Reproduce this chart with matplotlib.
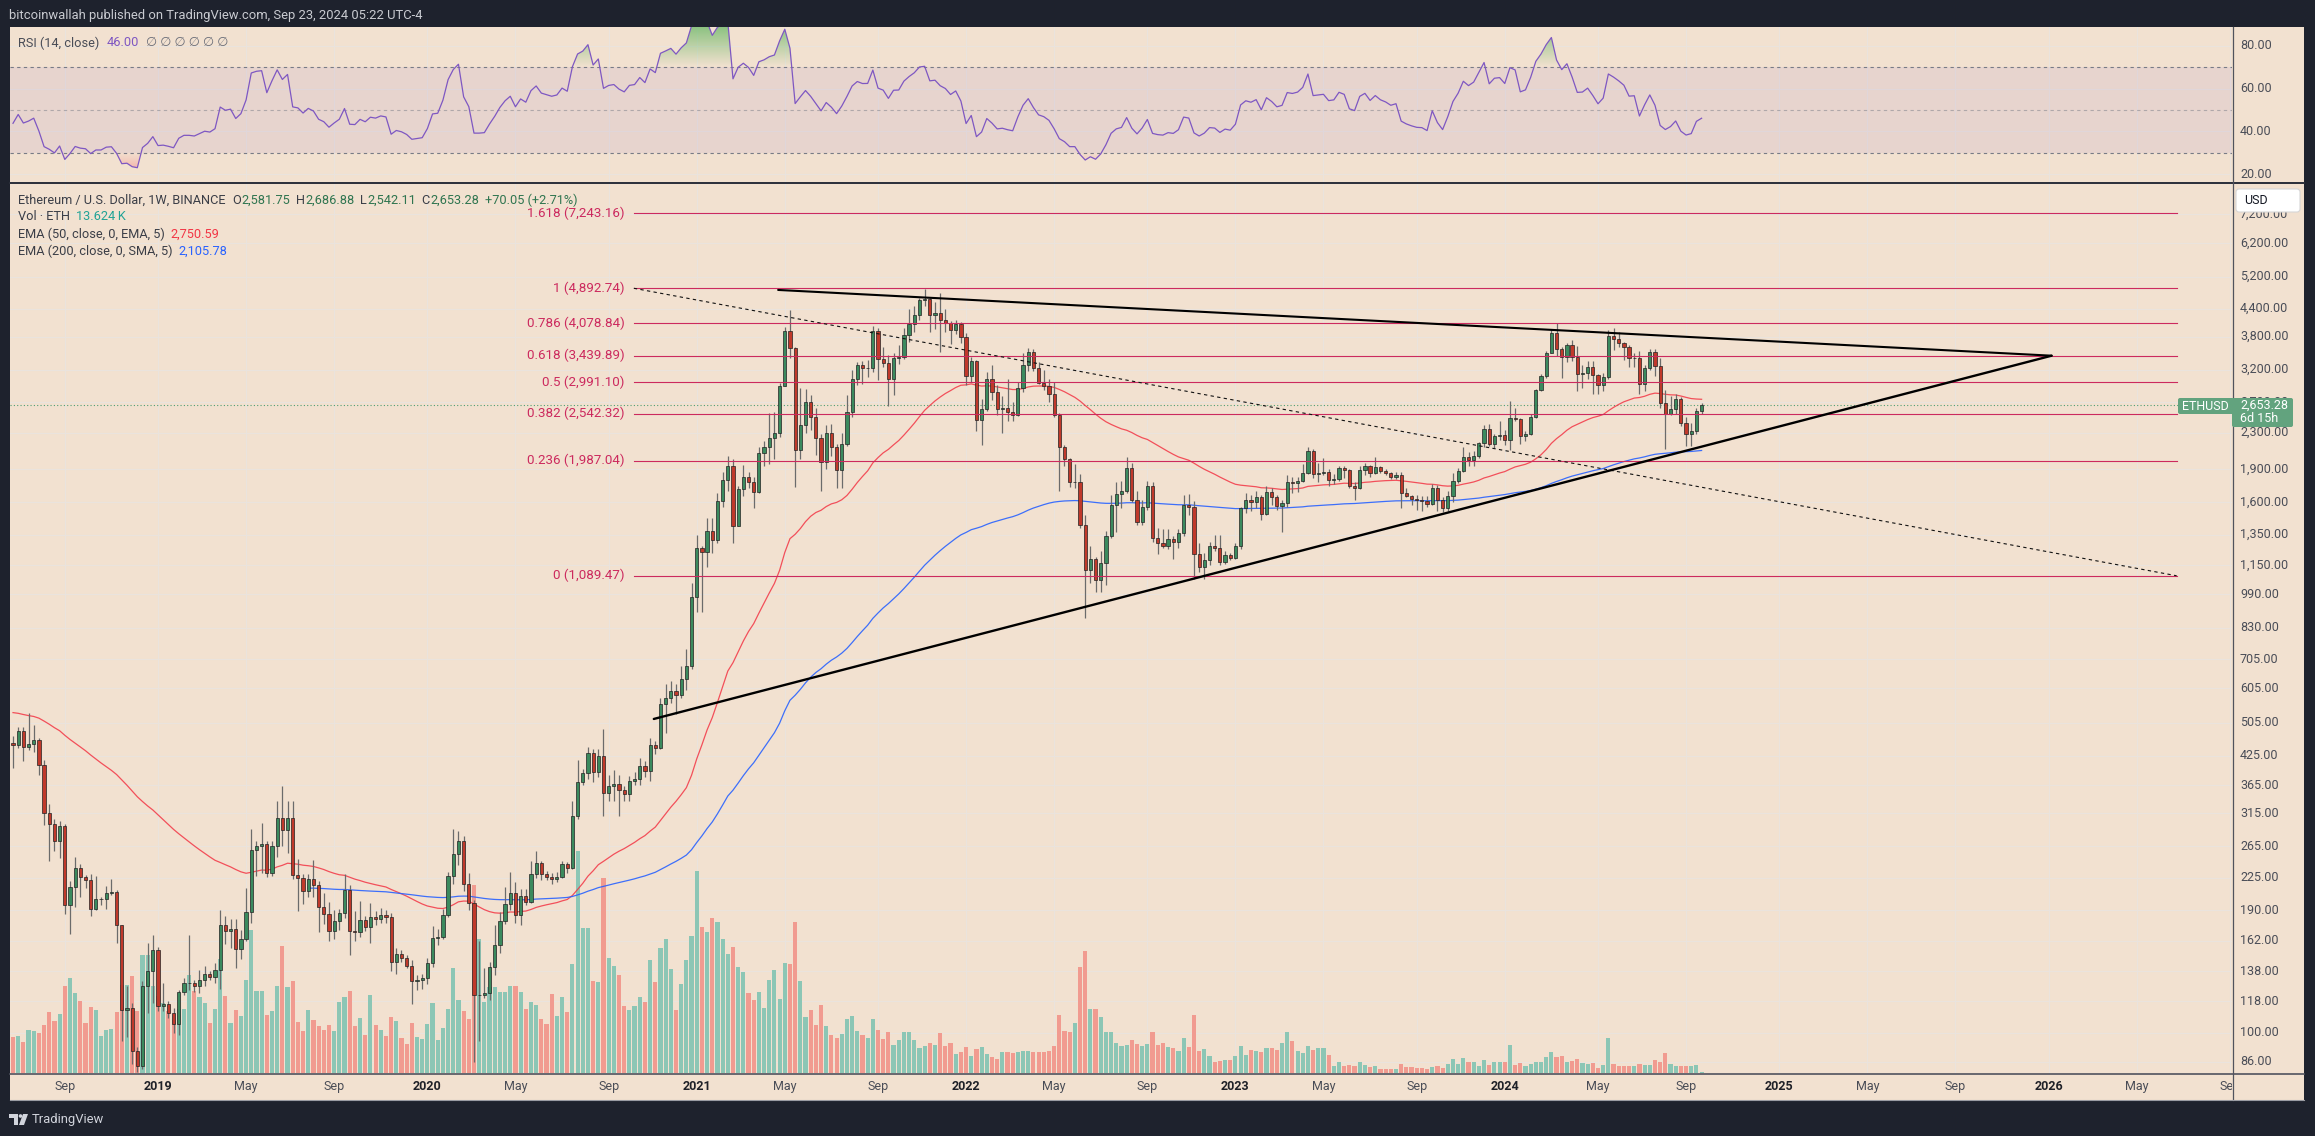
import numpy as np
import pandas as pd
import matplotlib
matplotlib.use("Agg")
import matplotlib.pyplot as plt
import matplotlib.transforms as mtransforms
from matplotlib.patches import Rectangle, FancyBboxPatch, Polygon, Circle
from matplotlib.lines import Line2D
from matplotlib.path import Path
from matplotlib.colors import LinearSegmentedColormap

plt.rcParams['font.family'] = ['Roboto', 'DejaVu Sans']

# ---------------------------------------------------------------- data
first_week = "2018-06-25"          # Monday of first weekly bar
first_open = 455.0
last_open = 2581.75

close_2018 = [451, 484, 446, 453, 463, 406, 316, 298, 273, 294, 195, 214, 237, 226, 222, 191, 201, 201, 208, 209,
              176, 113, 114, 91, 84, 128, 138, 154]
high_2018 = [472, 494, 494, 531, 499, 467, 417, 330, 305, 302, 298, 221, 251, 242, 228, 229, 227, 203, 215, 223,
             211, 176, 128, 117, 93, 131, 160, 167]
low_2018 = [400, 443, 413, 438, 434, 384, 297, 246, 259, 250, 186, 168, 193, 203, 213, 184, 190, 195, 191, 206,
            160, 96, 98, 85, 81.5, 83, 111, 117]
vol_2018 = [36, 37, 31, 43, 42, 40, 48, 61, 52, 59, 87, 95, 80, 72, 50, 66, 63, 37, 43, 44,
            61, 88, 88, 97, 62, 118, 118, 87]

close_2019 = [115, 116, 111, 105, 124, 130, 130, 128, 132, 136, 134, 139, 176, 170, 172, 155, 163, 188, 260, 266,
              268, 230, 266, 307, 288, 307, 228, 225, 210, 223, 216, 193, 186, 170, 179, 187, 211, 170, 169, 180,
              174, 183, 181, 185, 183, 145, 151, 148, 142, 131, 132, 133]
high_2019 = [157, 130, 118, 114, 125, 133, 167, 132, 139, 142, 138, 144, 190, 184, 181, 181, 171, 213, 290, 273,
             299, 273, 273, 335, 364, 335, 335, 248, 229, 229, 247, 221, 208, 198, 190, 191, 229, 216, 189, 199,
             184, 197, 189, 192, 190, 187, 156, 154, 150, 146, 135, 136]
low_2019 = [112, 112, 108, 100, 99, 122, 125, 124, 123, 128, 132, 130, 126, 159, 156, 140, 147, 162, 178, 227,
            230, 226, 227, 251, 265, 256, 223, 189, 196, 203, 203, 169, 177, 162, 163, 171, 182, 150, 162, 165,
            170, 160, 176, 178, 178, 138, 136, 145, 140, 116, 125, 126]
vol_2019 = [77, 70, 62, 53, 64, 64, 98, 82, 76, 70, 50, 64, 114, 77, 50, 63, 57, 93, 143, 82,
            82, 58, 62, 87, 127, 86, 92, 51, 42, 63, 53, 47, 43, 48, 42, 71, 76, 82, 47, 55,
            38, 78, 48, 43, 37, 56, 52, 35, 29, 50, 36, 34]

close_2020 = [144, 164, 165, 185, 227, 255, 272, 218, 197, 122, 122, 123, 141, 158, 179, 196, 208, 185, 205, 198,
              229, 243, 229, 226, 223, 226, 242, 237, 310, 371, 388, 431, 391, 425, 351, 364, 368, 356, 349, 373,
              376, 403, 392, 450, 442, 557, 576, 597, 584, 634, 680, 975]
high_2020 = [148, 175, 172, 191, 232, 290, 287, 280, 230, 200, 162, 140, 145, 176, 188, 214, 232, 220, 212, 212,
             245, 258, 246, 233, 230, 232, 245, 244, 335, 417, 398, 445, 440, 440, 488, 385, 395, 385, 363, 382,
             390, 420, 415, 468, 460, 575, 620, 630, 620, 680, 742, 1050]
low_2020 = [129, 141, 158, 163, 183, 218, 241, 210, 190, 86, 96, 120, 119, 135, 152, 177, 190, 178, 176, 195,
            197, 225, 222, 222, 218, 220, 225, 230, 235, 305, 365, 376, 370, 380, 310, 335, 335, 310, 335, 335,
            365, 365, 380, 372, 430, 440, 480, 560, 530, 575, 600, 670]
vol_2020 = [49, 70, 33, 45, 64, 105, 73, 62, 54, 188, 134, 71, 86, 86, 81, 81, 87, 87, 81, 64,
            71, 68, 54, 49, 79, 57, 76, 61, 109, 222, 145, 145, 92, 91, 195, 115, 107, 98, 67, 63,
            67, 76, 71, 113, 91, 125, 134, 104, 63, 89, 113, 137]

close_2021 = [1260, 1231, 1380, 1313, 1613, 1795, 1930, 1416, 1710, 1830, 1780, 1685, 2070, 2135, 2240, 2300, 2940,
              3910, 3580, 2100, 2400, 2700, 2500, 2240, 1970, 2300, 2130, 1890, 2170, 2560, 3050, 3280, 3220, 3225,
              3920, 3375, 3310, 3040, 3400, 3410, 3825, 4060, 4260, 4590, 4630, 4260, 4290, 4150, 4080, 3930, 4050,
              3800]
high_2021 = [1350, 1270, 1470, 1475, 1680, 1870, 2040, 2000, 1740, 1940, 1870, 1830, 2140, 2200, 2545, 2560, 2990,
             3990, 4370, 3600, 2900, 2890, 2800, 2620, 2280, 2400, 2410, 2170, 2300, 2800, 3200, 3330, 3340, 3370,
             4020, 3970, 3600, 3450, 3480, 3640, 3970, 4380, 4460, 4660, 4870, 4650, 4550, 4780, 4400, 4130, 4150,
             4100]
low_2021 = [900, 900, 1140, 1230, 1290, 1560, 1700, 1290, 1410, 1650, 1720, 1550, 1680, 1930, 1950, 2000, 2250,
            2930, 3400, 1730, 2000, 2300, 2330, 2050, 1700, 1900, 2040, 1720, 1720, 2150, 2500, 2950, 2960, 3080,
            3160, 3030, 3250, 2650, 2800, 3300, 3380, 3700, 3900, 4140, 4450, 3900, 3950, 3500, 3900, 3650, 3850,
            3680]
vol_2021 = [202, 146, 141, 155, 151, 134, 119, 126, 106, 101, 80, 73, 81, 65, 93, 103, 74, 110, 109, 151,
            92, 56, 63, 48, 68, 47, 38, 35, 39, 54, 57, 42, 38, 35, 54, 43, 34, 41, 28, 33,
            41, 41, 33, 25, 27, 30, 28, 40, 27, 30, 19, 21]

close_2022 = [3100, 3340, 2460, 2600, 3040, 2850, 2600, 2620, 2560, 2520, 2900, 3270, 3500, 3230, 2990, 2930, 2810,
              2520, 2130, 2000, 1780, 1780, 1420, 1125, 1190, 1065, 1165, 1340, 1575, 1670, 1700, 1910, 1615, 1440,
              1560, 1740, 1330, 1290, 1275, 1320, 1300, 1360, 1580, 1560, 1220, 1140, 1185, 1270, 1260, 1170, 1215,
              1195]
high_2022 = [3870, 3420, 3360, 2750, 3160, 3280, 2950, 2790, 3040, 2700, 3000, 3480, 3580, 3560, 3330, 3200, 3050,
             3000, 2550, 2160, 2020, 1950, 1850, 1500, 1270, 1200, 1240, 1380, 1660, 1780, 1790, 2030, 1960, 1700,
             1620, 1790, 1780, 1400, 1390, 1390, 1340, 1390, 1660, 1670, 1610, 1290, 1230, 1300, 1350, 1350, 1240,
             1230]
low_2022 = [2950, 3000, 2320, 2160, 2580, 2730, 2520, 2300, 2440, 2450, 2510, 2850, 3180, 3180, 2960, 2880, 2700,
            2500, 1700, 1930, 1730, 1720, 1400, 875, 1050, 1000, 1000, 1040, 1330, 1370, 1550, 1680, 1600, 1420,
            1420, 1540, 1300, 1220, 1260, 1250, 1190, 1260, 1340, 1500, 1070, 1110, 1070, 1150, 1240, 1150, 1160,
            1180]
vol_2022 = [26, 17, 24, 26, 19, 16, 14, 21, 21, 20, 21, 22, 22, 21, 21, 21, 22, 27, 58, 42,
            41, 50, 106, 122, 64, 64, 56, 41, 41, 30, 27, 28, 33, 29, 27, 29, 41, 28, 30, 26,
            25, 22, 35, 26, 58, 22, 24, 17, 11, 12, 13, 13]

close_2023 = [1270, 1550, 1620, 1600, 1640, 1505, 1690, 1640, 1570, 1590, 1780, 1770, 1790, 1860, 2090, 1850, 1860,
              1870, 1800, 1810, 1910, 1890, 1740, 1720, 1890, 1930, 1860, 1920, 1880, 1860, 1830, 1845, 1680, 1650,
              1630, 1615, 1612, 1585, 1725, 1620, 1550, 1650, 1790, 1880, 2030, 1995, 2040, 2180, 2350, 2170, 2260,
              2270]
high_2023 = [1290, 1560, 1680, 1660, 1700, 1660, 1740, 1720, 1660, 1620, 1840, 1830, 1830, 1950, 2140, 2110, 1960,
             2020, 1900, 1850, 1930, 1930, 1900, 1780, 1930, 1960, 1940, 2030, 1930, 1900, 1870, 1870, 1870, 1720,
             1660, 1660, 1650, 1650, 1760, 1750, 1640, 1700, 1860, 1910, 2140, 2080, 2090, 2190, 2400, 2410, 2290,
             2450]
low_2023 = [1190, 1250, 1510, 1530, 1550, 1460, 1500, 1580, 1540, 1370, 1560, 1680, 1690, 1780, 1850, 1820, 1780,
            1840, 1740, 1760, 1790, 1820, 1720, 1620, 1710, 1840, 1830, 1850, 1860, 1840, 1810, 1810, 1550, 1640,
            1580, 1540, 1530, 1560, 1580, 1530, 1520, 1530, 1600, 1770, 1870, 1930, 1930, 2020, 2140, 2150, 2120,
            2220]
vol_2023 = [17, 27, 18, 23, 22, 21, 25, 25, 23, 30, 41, 32, 22, 20, 27, 23, 25, 25, 18, 7,
            11, 7, 8, 7, 11, 8, 6, 7, 4, 4, 4, 4, 9, 6, 6, 5, 5, 4, 6, 7,
            5, 9, 14, 9, 15, 11, 11, 7, 13, 8, 11, 11]

close_2024 = [2220, 2490, 2470, 2260, 2290, 2500, 2870, 3100, 3480, 3880, 3570, 3420, 3640, 3420, 3130, 3140, 3245,
              3110, 2950, 3080, 3810, 3750, 3680, 3600, 3390, 3400, 2960, 3230, 3500, 3260, 2680, 2540, 2610, 2740,
              2420, 2290, 2320, 2583, 2653.28]
high_2024 = [2330, 2720, 2620, 2480, 2320, 2540, 2890, 3130, 3520, 3950, 4090, 3600, 3680, 3730, 3620, 3280, 3350,
             3350, 3130, 3140, 3930, 3980, 3890, 3700, 3630, 3480, 3520, 3280, 3560, 3560, 3400, 2870, 2790, 2820,
             2770, 2500, 2420, 2620, 2686.88]
low_2024 = [2160, 2100, 2450, 2170, 2200, 2270, 2490, 2860, 3060, 3480, 3440, 3060, 3320, 3350, 2860, 2900, 3050,
            2810, 2820, 2860, 3040, 3550, 3600, 3370, 3240, 3250, 2810, 2860, 3200, 3090, 2620, 2110, 2520, 2540,
            2380, 2150, 2150, 2290, 2542.11]
vol_2024 = [11, 28, 8, 10, 7, 9, 11, 11, 16, 21, 16, 17, 11, 12, 14, 10, 9, 10, 5, 8,
            35, 9, 7, 7, 7, 7, 9, 8, 8, 13, 11, 20, 9, 7, 7, 7, 7, 8, 1]

# indicator seeds (values read at the left edge of the chart)
ema50_seed = 533.0
ema200_seed = 213.0
ema200_start = 57
rsi_seed_gain, rsi_seed_loss = 14.0, 18.0

# drawings
fib_levels = [1.618, 1, 0.786, 0.618, 0.5, 0.382, 0.236, 0]
fib_prices = [7243.16, 4892.74, 4078.84, 3439.89, 2991.10, 2542.32, 1987.04, 1089.47]
fib_span = ["2020-10-11", "2026-06-27"]
upper_trend = [("2021-04-24", 4850.0), ("2026-01-09", 3440.0)]
lower_trend = [("2020-11-07", 515.6), ("2026-01-09", 3440.0)]

price_ticks = [86, 100, 118, 138, 162, 190, 225, 265, 315, 365, 425, 505, 605, 705, 830, 990, 1150, 1350,
               1600, 1900, 2300, 2700, 3200, 3800, 4400, 5200, 6200, 7200]
rsi_ticks = [20, 40, 60, 80]

# ---------------------------------------------------------------- series
close = np.array(close_2018 + close_2019 + close_2020 + close_2021 + close_2022 + close_2023 + close_2024, float)
high = np.array(high_2018 + high_2019 + high_2020 + high_2021 + high_2022 + high_2023 + high_2024, float)
low = np.array(low_2018 + low_2019 + low_2020 + low_2021 + low_2022 + low_2023 + low_2024, float)
volume = np.array(vol_2018 + vol_2019 + vol_2020 + vol_2021 + vol_2022 + vol_2023 + vol_2024, float)
n = len(close)
assert len(high) == n and len(low) == n and len(volume) == n, (n, len(high), len(low), len(volume))
idx = np.arange(n)
open_ = np.r_[first_open, close[:-1]]
open_[-1] = last_open
up = close >= open_
t0 = pd.Timestamp(first_week)


def bar_pos(d):
    return (pd.Timestamp(d) - t0).days / 7.0


ema50 = pd.Series(np.r_[ema50_seed, close[1:]]).ewm(alpha=2 / 51, adjust=False).mean().values
ema200 = pd.Series(np.r_[ema200_seed, close[ema200_start + 1:]]).ewm(alpha=2 / 201, adjust=False).mean().values
dlt = np.diff(close)
ag = pd.Series(np.r_[rsi_seed_gain, np.clip(dlt, 0, None)]).ewm(alpha=1 / 14, adjust=False).mean().values
al = pd.Series(np.r_[rsi_seed_loss, np.clip(-dlt, 0, None)]).ewm(alpha=1 / 14, adjust=False).mean().values
rsi = 100 - 100 / (1 + ag / al)

# month ticks
ext = pd.date_range(first_week, periods=445, freq="7D")
tick_idx, tick_lab, tick_year = [], [], []
prev = (ext[0].year, ext[0].month)
for i, d in enumerate(ext):
    key = (d.year, d.month)
    if key != prev and d.month in (1, 5, 9):
        tick_idx.append(i)
        tick_lab.append(str(d.year) if d.month == 1 else d.strftime("%b"))
        tick_year.append(d.month == 1)
    prev = key

# ---------------------------------------------------------------- style
W, H, DPI = 2315, 1136, 100
FRAME = "#1e222d"
BG = "#f2e1d0"
GRID = "#eae3dd"
UPC, DNC = "#3b8a5e", "#c0392b"
VUP, VDN = "#8cc6b5", "#f19b90"
FIB = "#cc2a5e"
TXT = "#4a4d57"
FS_AX = 9.0
FS_LG = 9.2

fig = plt.figure(figsize=(W / DPI, H / DPI), dpi=DPI)
fig.patch.set_facecolor(FRAME)
PX = mtransforms.Affine2D().scale(1, -1).translate(0, H)   # pixel coords, top-left origin


def frect(x0, y0, x1, y1):
    return [x0 / W, 1 - y1 / H, (x1 - x0) / W, (y1 - y0) / H]


fig.add_artist(Rectangle((10, 27), 2294, 1073, transform=PX, facecolor=BG, edgecolor="none", zorder=-10))

XL, XR = 10, 2232
gax = fig.add_axes(frect(XL, 183, XR, 1073), label="grid")
vax = fig.add_axes(frect(XL, 183, XR, 1073), sharex=gax, label="vol")
ax = fig.add_axes(frect(XL, 183, XR, 1073), sharex=gax, sharey=gax, label="price")
rax = fig.add_axes(frect(XL, 27, XR, 182), sharex=gax, label="rsi")
tax = fig.add_axes(frect(XL, 1073, XR, 1100), sharex=gax, label="time")
for a, z in ((gax, 0), (vax, 1), (ax, 2), (rax, 2), (tax, 2)):
    a.set_axis_off()
    a.set_zorder(z)

gax.set_yscale("log")
gax.set_ylim(81.1, 8480)
gax.set_xlim(-0.58, 428.4)
vax.set_ylim(0, volume.max() * 4.0)
rax.set_ylim(16.3, 88.8)
tax.set_ylim(0, 1)

# grid
for p in price_ticks:
    gax.axhline(p, color=GRID, lw=0.8, zorder=0)
for t in tick_idx:
    gax.axvline(t, color=GRID, lw=0.8, zorder=0)
    rax.axvline(t, color=GRID, lw=0.8, zorder=0)
for v in rsi_ticks:
    rax.axhline(v, color=GRID, lw=0.8, zorder=0)

# volume
vax.bar(idx, volume, width=0.8, color=np.where(up, VUP, VDN), linewidth=0, zorder=1)

# current price dotted line
ax.axhline(close[-1], color="#4f9e73", lw=0.8, ls=(0, (1, 2)), zorder=1)

# EMAs
ax.plot(idx, ema50, color="#f23645", lw=0.9, alpha=0.85, zorder=3)
ax.plot(idx[ema200_start:], ema200, color="#2962ff", lw=0.9, alpha=0.9, zorder=3)

# candles
ax.vlines(idx, low, high, color="#6b6b6b", lw=0.9, zorder=4)
blo = np.minimum(open_, close)
bhi = np.maximum(open_, close)
ax.bar(idx, bhi - blo, bottom=blo, width=0.62, color=np.where(up, UPC, DNC), edgecolor="#222222",
       linewidth=0.5, zorder=5)

# fib retracement
fx0, fx1 = bar_pos(fib_span[0]), bar_pos(fib_span[1])
off = mtransforms.ScaledTranslation(-9 / DPI, 0, fig.dpi_scale_trans)
for lv, pr in zip(fib_levels, fib_prices):
    ax.plot([fx0, fx1], [pr, pr], color=FIB, lw=0.8, zorder=6)
    ax.text(fx0, pr, f"{lv:g} ({pr:,.2f})", color=FIB, fontsize=9.6, ha="right", va="center",
            transform=ax.transData + off, zorder=6)
ax.plot([fx0, fx1], [fib_prices[1], fib_prices[-1]], color="#111111", lw=0.8, ls=(0, (3, 3)), zorder=7)

# trend lines
ax.plot([bar_pos(upper_trend[0][0]), bar_pos(upper_trend[1][0])], [upper_trend[0][1], upper_trend[1][1]],
        color="#000000", lw=1.5, zorder=8, solid_capstyle="round")
ax.plot([bar_pos(lower_trend[0][0]), bar_pos(lower_trend[1][0])], [lower_trend[0][1], lower_trend[1][1]],
        color="#000000", lw=1.7, zorder=8, solid_capstyle="round")

# RSI pane
rax.axhspan(30, 70, color="#7e57c2", alpha=0.09, lw=0, zorder=0.5)
for v, al_ in ((70, 1.0), (50, 0.5), (30, 1.0)):
    rax.axhline(v, color="#787b86", lw=0.8, ls=(0, (3, 3)), alpha=al_, zorder=1)
poly = rax.fill_between(idx, 70, rsi, where=rsi > 70, interpolate=True, facecolor="none", edgecolor="none")
paths = poly.get_paths()
if len(paths):
    cmap = LinearSegmentedColormap.from_list("ob", [(0.30, 0.69, 0.31, 0.0), (0.30, 0.69, 0.31, 1.0)])
    im = rax.imshow(np.linspace(0, 1, 256).reshape(-1, 1), extent=[0, n - 1, 70, 100], origin="lower",
                    aspect="auto", cmap=cmap, zorder=2, interpolation="bilinear")
    im.set_clip_path(Path.make_compound_path(*paths), transform=rax.transData)
poly2 = rax.fill_between(idx, 30, rsi, where=rsi < 30, interpolate=True, facecolor="none", edgecolor="none")
paths2 = poly2.get_paths()
if len(paths2):
    cmap2 = LinearSegmentedColormap.from_list("os", [(0.95, 0.21, 0.27, 1.0), (0.95, 0.21, 0.27, 0.0)])
    im2 = rax.imshow(np.linspace(0, 1, 256).reshape(-1, 1), extent=[0, n - 1, 0, 30], origin="lower",
                     aspect="auto", cmap=cmap2, zorder=2, interpolation="bilinear")
    im2.set_clip_path(Path.make_compound_path(*paths2), transform=rax.transData)
rax.plot(idx, rsi, color="#7e57c2", lw=0.9, zorder=3)
gax.set_xlim(-0.58, 428.4)
rax.set_ylim(16.3, 88.8)

# ---------------------------------------------------------------- axes chrome
def line_px(x0, y0, x1, y1, c, lw):
    fig.add_artist(Line2D([x0, x1], [y0, y1], transform=PX, color=c, lw=lw, zorder=4))


line_px(10, 182.5, 2304, 182.5, "#2a2e39", 1.4)
line_px(10, 1073.5, 2304, 1073.5, "#50535e", 1.2)
line_px(2232.5, 27, 2232.5, 1100, "#50535e", 0.9)
line_px(10, 1100, 2304, 1100, "#9a9ca3", 0.8)

# price axis labels
trp = mtransforms.blended_transform_factory(PX, ax.transData)
for p in price_ticks:
    fig.text(2240, p, f"{p:,.2f}", transform=trp, color=TXT, fontsize=FS_AX, va="center", ha="left", zorder=3)
trr = mtransforms.blended_transform_factory(PX, rax.transData)
for v in rsi_ticks:
    fig.text(2240, v, f"{v:.2f}", transform=trr, color=TXT, fontsize=FS_AX, va="center", ha="left", zorder=3)

# time axis labels (clipped at the price-axis boundary)
for t, lab, yr in zip(tick_idx, tick_lab, tick_year):
    tt = tax.text(t, 0.5, lab, ha="center", va="center", fontsize=FS_AX,
                  color="#1f2128" if yr else TXT, fontweight="bold" if yr else "normal")
    tt.set_clip_box(tax.bbox)
    tt.set_clip_on(True)

# USD button
fig.add_artist(FancyBboxPatch((2236, 189), 64, 23, boxstyle="round,pad=0,rounding_size=3", transform=PX,
                              facecolor="white", edgecolor="#d6d6d6", lw=0.8, zorder=5))
fig.text(2244, 201, "USD", transform=PX, color="#131722", fontsize=FS_AX, va="center", ha="left", zorder=6)

# last price labels
LBL = "#62a37e"
fig.add_artist(FancyBboxPatch((2178, 398), 56, 16, boxstyle="round,pad=0,rounding_size=2", transform=PX,
                              facecolor=LBL, edgecolor="none", zorder=5))
fig.add_artist(FancyBboxPatch((2232, 398), 61, 29, boxstyle="round,pad=0,rounding_size=2", transform=PX,
                              facecolor=LBL, edgecolor="none", zorder=5))
fig.text(2182, 406.5, "ETHUSD", transform=PX, color="white", fontsize=FS_AX, va="center", ha="left", zorder=6)
fig.text(2240, 405.5, f"{close[-1]:,.2f}", transform=PX, color="white", fontsize=FS_AX, va="center", zorder=6)
fig.text(2240, 419, "6d 15h", transform=PX, color="white", fontsize=FS_AX, va="center", zorder=6)

# ---------------------------------------------------------------- legends
renderer = fig.canvas.get_renderer()


def runs(x, y, parts, size=FS_LG):
    for s, c, gap in parts:
        t = fig.text(x, y, s, transform=PX, color=c, fontsize=size, va="center", ha="left", zorder=6)
        x += t.get_window_extent(renderer).width + gap


fig.text(9, 15, "bitcoinwallah published on TradingView.com, Sep 23, 2024 05:22 UTC-4", transform=PX,
         color="#c9cbd1", fontsize=9.4, va="center", ha="left")
GREEN_V = "#2f7550"
runs(18, 43, [("RSI (14, close)", TXT, 7), ("46.00", "#7e57c2", 7),
              ("\u2205 \u2205 \u2205 \u2205 \u2205 \u2205", "#6a6d78", 0)])
runs(18, 200, [("Ethereum / U.S. Dollar, 1W, BINANCE", "#3b3e47", 7),
               ("O", "#3b3e47", 0), ("2,581.75", GREEN_V, 6), ("H", "#3b3e47", 0), ("2,686.88", GREEN_V, 6),
               ("L", "#3b3e47", 0), ("2,542.11", GREEN_V, 6), ("C", "#3b3e47", 0), ("2,653.28", GREEN_V, 6),
               ("+70.05 (+2.71%)", GREEN_V, 0)])
runs(18, 217, [("Vol \u00b7 ETH", "#3b3e47", 6), ("13.624\u2009K", "#22a396", 0)])
runs(18, 234, [("EMA (50, close, 0, EMA, 5)", "#3b3e47", 6), ("2,750.59", "#f23645", 0)])
runs(18, 251, [("EMA (200, close, 0, SMA, 5)", "#3b3e47", 6), ("2,105.78", "#2962ff", 0)])

# TradingView logo
fig.add_artist(Polygon([(9, 1114), (18, 1114), (18, 1125), (14, 1125), (14, 1118), (9, 1118)], closed=True,
                       transform=PX, facecolor="#d1d4dc", edgecolor="none"))
fig.add_artist(Circle((20.5, 1116), 1.8, transform=PX, facecolor="#d1d4dc", edgecolor="none"))
fig.add_artist(Polygon([(23, 1114), (28, 1114), (24, 1125), (19, 1125)], closed=True, transform=PX,
                       facecolor="#d1d4dc", edgecolor="none"))
fig.text(32, 1119.5, "TradingView", transform=PX, color="#d1d4dc", fontsize=9.4, va="center", ha="left")

fig.savefig("out.png", dpi=DPI, facecolor=FRAME)
